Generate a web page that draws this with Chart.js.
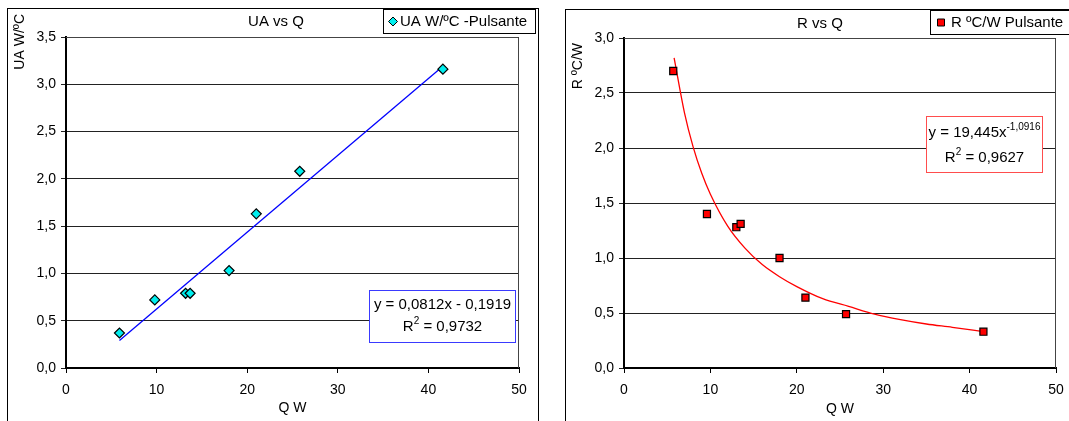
<!DOCTYPE html>
<html>
<head>
<meta charset="utf-8">
<script src="https://cdn.jsdelivr.net/npm/chart.js@4.4.1/dist/chart.umd.min.js"></script>
<style>
  html, body { margin: 0; padding: 0; background: #fff; width: 1069px; height: 421px; overflow: hidden; }
  .frame { position: absolute; border: 1px solid #000; overflow: hidden; background: #fff; }
  #box-ua { left: 7px; top: 8px; width: 530px; height: 430px; }
  #box-r { left: 565px; top: 9px; width: 520px; height: 430px; }
  canvas { display: block; }
</style>
</head>
<body>
<div class="frame" id="box-ua"><canvas id="chart-ua" width="530" height="420"></canvas></div>
<div class="frame" id="box-r"><canvas id="chart-r" width="520" height="420"></canvas></div>
<script>
// datos
const uaQ = [5.9, 9.8, 13.2, 13.7, 18.0, 21.0, 25.8, 41.6];
const uaVals = [0.37, 0.72, 0.79, 0.79, 1.03, 1.63, 2.08, 3.16];
const uaTrendQ = [5.9, 41.6];
const uaTrendVals = [0.29, 3.19];

const rQ = [5.7, 9.6, 13.0, 13.5, 18.0, 21.0, 25.7, 41.6];
const rVals = [2.70, 1.40, 1.28, 1.31, 1.00, 0.64, 0.49, 0.33];
const rTrendQ = [5.8, 7, 8, 9, 10, 12, 14, 16, 18, 20, 23, 26, 29, 32, 35, 38, 41.6];
const rTrendVals = [2.82, 2.32, 2.01, 1.77, 1.58, 1.29, 1.09, 0.94, 0.83, 0.74, 0.63, 0.56, 0.49, 0.44, 0.40, 0.37, 0.33];

// textos
const uaTitle = "UA vs Q";
const uaYTitle = "UA W/ºC";
const uaLegend = "UA W/ºC -Pulsante";
const uaEq = "y = 0,0812x - 0,1919";
const uaR2 = "0,9732";

const rTitle = "R vs Q";
const rYTitle = "R ºC/W";
const rLegend = "R ºC/W Pulsante";
const rEq = "y = 19,445x";
const rEqExp = "-1,0916";
const rR2 = "0,9627";

const xTitle = "Q W";

const FONT = '"Liberation Sans", Arial, sans-serif';
const pts = (xs, ys) => xs.map((x, i) => ({ x: x, y: ys[i] }));
const commaFmt = v => v.toFixed(1).replace(".", ",");

// texto con superíndices, centrado en cx
function drawRich(ctx, parts, cx, cy) {
  const big = "15px " + FONT, small = "10px " + FONT;
  let w = 0;
  parts.forEach(p => { ctx.font = p[1] ? small : big; w += ctx.measureText(p[0]).width; });
  let x = cx - w / 2;
  ctx.textAlign = "left";
  parts.forEach(p => {
    ctx.font = p[1] ? small : big;
    ctx.fillText(p[0], x, p[1] ? cy - 6 : cy);
    x += ctx.measureText(p[0]).width;
  });
}

function drawMarker(ctx, style, x, y) {
  ctx.beginPath();
  if (style === "rectRot") {
    ctx.moveTo(x, y - 4.5); ctx.lineTo(x + 4.5, y); ctx.lineTo(x, y + 4.5); ctx.lineTo(x - 4.5, y);
  } else {
    ctx.rect(x - 3.5, y - 3.5, 7, 7);
  }
  ctx.closePath();
  ctx.fill();
  ctx.stroke();
}

// título, leyenda, título del eje y y cuadro de la ecuación
const deco = {
  id: "deco",
  afterDraw(chart, args, o) {
    const ctx = chart.ctx, a = chart.chartArea;
    ctx.save();
    ctx.strokeStyle = "#444";
    ctx.lineWidth = 1;
    ctx.beginPath();
    ctx.moveTo(a.left, a.top + 0.5);
    ctx.lineTo(a.right - 0.5, a.top + 0.5);
    ctx.lineTo(a.right - 0.5, a.bottom);
    ctx.stroke();

    ctx.fillStyle = "#000";
    ctx.textBaseline = "middle";
    ctx.textAlign = "center";
    ctx.font = "15px " + FONT;
    ctx.fillText(o.title, o.titleAt[0], o.titleAt[1]);

    ctx.save();
    ctx.translate(o.yTitleAt[0], o.yTitleAt[1]);
    ctx.rotate(-Math.PI / 2);
    ctx.font = "14px " + FONT;
    ctx.textAlign = "right";
    ctx.fillText(o.yTitle, 0, 0);
    ctx.restore();

    const L = o.legend;
    ctx.fillStyle = "#fff";
    ctx.fillRect(L.x, L.y, L.w, L.h);
    ctx.strokeStyle = "#000";
    ctx.strokeRect(L.x + 0.5, L.y + 0.5, L.w - 1, L.h - 1);
    const ds = chart.data.datasets[0];
    ctx.fillStyle = ds.backgroundColor;
    ctx.strokeStyle = "#000";
    ctx.lineWidth = 1;
    drawMarker(ctx, ds.pointStyle, L.mx, L.my);
    ctx.fillStyle = "#000";
    ctx.textAlign = "left";
    ctx.font = "15px " + FONT;
    ctx.fillText(ds.label, L.tx, L.my);

    const E = o.eq;
    ctx.fillStyle = "#fff";
    ctx.fillRect(E.x, E.y, E.w, E.h);
    ctx.strokeStyle = E.color;
    ctx.strokeRect(E.x + 0.5, E.y + 0.5, E.w - 1, E.h - 1);
    ctx.fillStyle = "#000";
    drawRich(ctx, E.line1, E.x + E.w / 2, E.y1);
    drawRich(ctx, E.line2, E.x + E.w / 2, E.y2);
    ctx.restore();
  }
};

function makeOptions(yMax, padRight, xh, decoOpts) {
  return {
    responsive: false,
    animation: false,
    layout: { padding: { left: 0, top: 28, right: padRight, bottom: 0 } },
    plugins: {
      legend: { display: false },
      tooltip: { enabled: false },
      deco: decoOpts
    },
    scales: {
      x: {
        type: "linear", min: 0, max: 50,
        ticks: { stepSize: 10, color: "#000", font: { family: FONT, size: 14 }, padding: 9, maxRotation: 0 },
        grid: { drawOnChartArea: false, color: "#000", tickLength: 5 },
        border: { color: "#000", width: 2 },
        title: { display: true, text: xTitle, color: "#000", font: { family: FONT, size: 14 }, padding: { top: 0, bottom: 12 } },
        afterFit: s => { s.height = xh; }
      },
      y: {
        type: "linear", min: 0, max: yMax,
        ticks: { stepSize: 0.5, color: "#000", font: { family: FONT, size: 14 }, padding: 5, callback: commaFmt },
        grid: { color: "#222", lineWidth: 1, tickLength: 5 },
        border: { color: "#000", width: 2 },
        afterFit: s => { s.width = 58; }
      }
    }
  };
}

// UA vs Q
new Chart(document.getElementById("chart-ua"), {
  type: "scatter",
  data: {
    datasets: [{
      label: uaLegend,
      data: pts(uaQ, uaVals),
      pointStyle: "rectRot",
      pointRadius: 5,
      backgroundColor: "#00eeee",
      borderColor: "#000",
      borderWidth: 1.2
    }, {
      label: "lineal",
      data: pts(uaTrendQ, uaTrendVals),
      showLine: true,
      borderColor: "#0000ff",
      borderWidth: 1.3,
      pointRadius: 0
    }]
  },
  options: makeOptions(3.5, 19, 61, {
    title: uaTitle, titleAt: [268, 13],
    yTitle: uaYTitle, yTitleAt: [12, 5],
    legend: { x: 375, y: 0, w: 153, h: 25, mx: 385, my: 12.5, tx: 392 },
    eq: {
      x: 361, y: 281, w: 147, h: 53, color: "#3a3aff", y1: 296, y2: 318,
      line1: [[uaEq]],
      line2: [["R"], ["2", true], [" = " + uaR2]]
    }
  }),
  plugins: [deco]
});

// R vs Q
new Chart(document.getElementById("chart-r"), {
  type: "scatter",
  data: {
    datasets: [{
      label: rLegend,
      data: pts(rQ, rVals),
      pointStyle: "rect",
      pointRadius: 5,
      backgroundColor: "#ff0000",
      borderColor: "#000",
      borderWidth: 1.2
    }, {
      label: "potencial",
      data: pts(rTrendQ, rTrendVals),
      showLine: true,
      borderColor: "#ff0000",
      borderWidth: 1.3,
      tension: 0.4,
      cubicInterpolationMode: "monotone",
      pointRadius: 0
    }]
  },
  options: makeOptions(3.0, 30, 62, {
    title: rTitle, titleAt: [254, 14],
    yTitle: rYTitle, yTitleAt: [12, 33],
    legend: { x: 364, y: 0, w: 170, h: 25, mx: 375, my: 12.5, tx: 385 },
    eq: {
      x: 360, y: 106, w: 117, h: 57, color: "#ff4d4d", y1: 123, y2: 148,
      line1: [[rEq], [rEqExp, true]],
      line2: [["R"], ["2", true], [" = " + rR2]]
    }
  }),
  plugins: [deco]
});
</script>
</body>
</html>
